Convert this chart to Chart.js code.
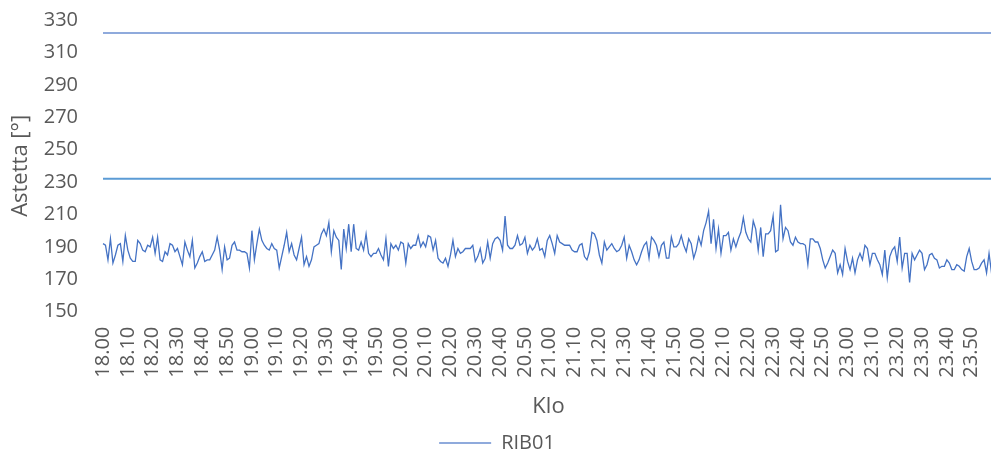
<!DOCTYPE html>
<html>
<head>
<meta charset="utf-8">
<script src="https://cdn.jsdelivr.net/npm/chart.js@4.4.1/dist/chart.umd.min.js"></script>
<style>
  html, body { margin: 0; padding: 0; background: #ffffff; overflow: hidden; width: 991px; height: 458px; }
  canvas { display: block; }
</style>
</head>
<body>
<canvas id="c" width="994" height="463"></canvas>
<script>
// ---- data ----
const startHour = 18;
const endHour = 23;
const seriesName = 'RIB01';
const rib01 = [
  192,191,182,195,180,185,191,192,181,197,
  188,183,181,181,194,192,188,187,191,190,
  196,186,196,182,181,187,185,192,191,187,
  189,184,179,193,188,184,194,177,180,184,
  187,181,182,182,185,188,196,188,176,190,
  182,183,191,193,188,188,187,187,186,177,
  200,182,192,201,194,191,189,188,192,189,
  188,177,184,191,199,187,192,185,182,189,
  196,179,184,178,182,190,191,192,198,201,
  197,205,187,200,196,194,176,201,189,204,
  187,204,189,188,193,188,198,186,184,186,
  186,189,185,182,195,178,192,
  189,191,188,193,192,180,192,189,191,191,
  197,190,193,190,197,196,188,194,183,181,
  180,183,178,185,194,184,189,186,187,189,
  189,189,191,181,184,189,180,183,193,183,
  192,195,196,194,188,209,191,189,189,191,
  197,191,192,196,186,191,188,190,195,188,
  189,184,194,197,192,186,197,193,192,191,
  191,191,188,187,187,191,192,184,182,187,
  199,198,194,185,180,193,188,190,192,189,
  187,188,191,196,183,191,187,182,179,182,
  187,191,193,183,196,194,191,184,191,193,
  183,183,196,190,190,192,197,
  191,187,195,192,183,188,196,191,200,205,
  212,192,207,189,201,186,197,197,199,188,
  195,190,195,199,208,199,195,193,206,201,
  188,202,184,198,198,200,209,187,188,216,
  195,202,200,193,191,196,193,192,192,191,
  179,195,195,193,193,189,182,177,180,184,
  188,186,174,179,173,189,181,176,183,174,
  182,186,182,191,189,179,186,186,182,179,
  173,188,171,184,188,190,181,196,177,186,
  186,168,186,182,185,188,186,176,179,185,
  186,183,182,177,178,178,182,180,176,176,
  179,178,176,175,184,189,181,176,176,177,
  180,182,174,186,174,177
];
const upperLimit = 322;
const lowerLimit = 232;
const yMin = 150, yMax = 330, yStep = 20;
const labelEvery = 10;
const yTitle = 'Astetta [°]';
const xTitle = 'Klo';

// category labels: one per minute, "HH.MM"
const categories = [];
for (let h = startHour; h <= endHour; h++) {
  for (let m = 0; m < 60; m++) {
    categories.push(h + '.' + String(m).padStart(2, '0'));
  }
}
const firstCat = categories[0];
const lastCat = categories[categories.length - 1];

const textColor = '#595959';
const FONT = "'Open Sans', 'DejaVu Sans', sans-serif";

new Chart(document.getElementById('c'), {
  type: 'line',
  data: {
    labels: categories,
    datasets: [
      {
        label: seriesName,
        data: rib01,
        borderColor: '#4472C4',
        borderWidth: 1.3,
        pointRadius: 0,
        tension: 0,
        fill: false
      },
      {
        label: 'upper',
        data: [{x: firstCat, y: upperLimit}, {x: lastCat, y: upperLimit}],
        borderColor: '#8FAADC',
        borderWidth: 2,
        pointRadius: 0,
        fill: false
      },
      {
        label: 'lower',
        data: [{x: firstCat, y: lowerLimit}, {x: lastCat, y: lowerLimit}],
        borderColor: '#5B9BD5',
        borderWidth: 2,
        pointRadius: 0,
        fill: false
      }
    ]
  },
  options: {
    responsive: false,
    devicePixelRatio: 1,
    animation: false,
    layout: { padding: { top: 20, left: 0, right: 0, bottom: 0 } },
    plugins: {
      title: { display: false },
      tooltip: { enabled: false },
      legend: {
        display: true,
        position: 'bottom',
        labels: {
          color: textColor,
          font: { family: FONT, size: 20 },
          boxWidth: 52,
          boxHeight: 2,
          padding: 10,
          generateLabels: function () {
            return [{
              text: seriesName,
              fillStyle: '#8FAADC',
              strokeStyle: '#8FAADC',
              lineWidth: 0,
              hidden: false,
              datasetIndex: 0,
              fontColor: textColor
            }];
          }
        }
      }
    },
    scales: {
      x: {
        type: 'category',
        offset: false,
        grid: { display: false, drawTicks: false },
        border: { display: false },
        ticks: {
          autoSkip: false,
          maxRotation: 90,
          minRotation: 90,
          padding: 15,
          color: textColor,
          font: { family: FONT, size: 20 },
          callback: function (value, index) {
            return index % labelEvery === 0 ? categories[index] : '';
          }
        },
        title: {
          display: true,
          text: xTitle,
          color: textColor,
          font: { family: FONT, size: 22 },
          padding: { top: 0, bottom: 3 }
        },
        afterFit: function (scale) {
          scale.height = 111.3;
          scale.paddingLeft = 0;
          scale.paddingRight = 0;
        }
      },
      y: {
        min: yMin,
        max: yMax,
        grid: { display: false, drawTicks: false },
        border: { display: false },
        ticks: {
          stepSize: yStep,
          padding: 25,
          color: textColor,
          font: { family: FONT, size: 20 }
        },
        title: {
          display: true,
          text: yTitle,
          color: textColor,
          font: { family: FONT, size: 22 },
          padding: { top: 8, bottom: 0 }
        },
        afterFit: function (scale) {
          scale.width = 103;
          scale.paddingTop = 0;
          scale.paddingBottom = 0;
        }
      }
    }
  }
});
</script>
</body>
</html>
